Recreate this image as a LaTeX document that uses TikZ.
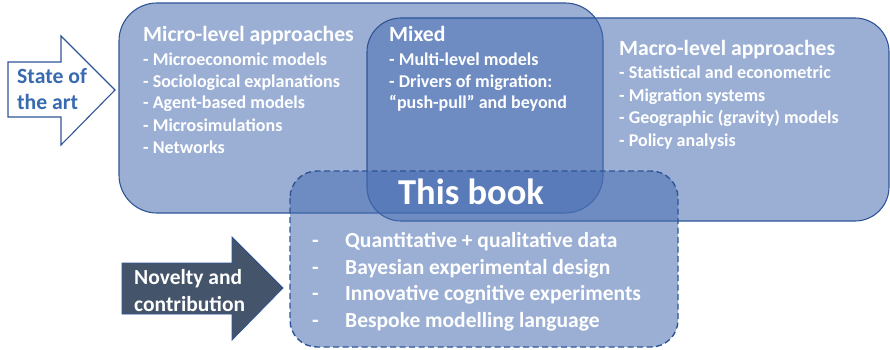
\documentclass[tikz,border=0pt]{standalone}
\usepackage{fontspec}
\setmainfont{Carlito}
\definecolor{boxfill}{RGB}{73,110,179}
\definecolor{boxline}{RGB}{47,85,151}
\definecolor{slate}{RGB}{68,84,106}
\definecolor{sotext}{RGB}{56,106,176}
\tikzset{
  region/.style={draw=boxline, line width=1.1pt, fill=boxfill, fill opacity=0.55},
  bookbox/.style={draw=boxline, line width=1.4pt, dash pattern=on 6pt off 3.5pt, fill=boxfill, fill opacity=0.55},
  head/.style={text=white, anchor=base west, inner sep=0pt, font=\bfseries\fontsize{21.7}{24}\selectfont},
  item/.style={text=white, anchor=base west, inner sep=0pt, font=\bfseries\fontsize{18}{21}\selectfont},
  bitem/.style={text=white, anchor=base west, inner sep=0pt, font=\bfseries\fontsize{21.5}{24}\selectfont},
}
\begin{document}
\begin{tikzpicture}[x=1pt,y=-1pt]
\useasboundingbox (0,0) rectangle (890,350);
% regions
\draw[region, rounded corners=38pt] (119,3) rectangle (603,213);
\draw[region, rounded corners=34pt] (367,18) rectangle (889,221);
\draw[bookbox, rounded corners=27pt] (290,171) rectangle (678,347);
% arrows
\draw[draw=boxline, line width=1.1pt, fill=white, line join=miter]
  (8,62) -- (61,62) -- (61,36) -- (115,90) -- (61,145) -- (61,117) -- (8,117) -- cycle;
\draw[draw=boxline, line width=0.8pt, fill=slate, line join=miter]
  (122,263) -- (232,263) -- (232,237) -- (283,288) -- (232,340) -- (232,314) -- (122,314) -- cycle;
% state of the art
\node[anchor=base west, inner sep=0pt, text=sotext, font=\bfseries\fontsize{21.7}{24}\selectfont] (sa1) at (17,84) {State of};
\node[anchor=base west, inner sep=0pt, text=sotext, font=\bfseries\fontsize{21.7}{24}\selectfont] (sa2) at (17,110) {the art};
% novelty
\node[bitem] (nc1) at (134,284) {Novelty and};
\node[bitem] (nc2) at (134,311) {contribution};
% micro
\node[head] (mih) at (143,42) {Micro-level approaches};
\node[item] (mi1) at (143,66) {- Microeconomic models};
\node[item] (mi2) at (143,88) {- Sociological explanations};
\node[item] (mi3) at (143,109) {- Agent-based models};
\node[item] (mi4) at (143,131) {- Microsimulations};
\node[item] (mi5) at (143,153) {- Networks};
% mixed
\node[head] (mxh) at (389,42) {Mixed};
\node[item] (mx1) at (389,66) {- Multi-level models};
\node[item] (mx2) at (389,88) {- Drivers of migration:};
\node[item] (mx3) at (389,109) {“push-pull” and beyond};
% macro
\node[head] (mah) at (619,56) {Macro-level approaches};
\node[item] (ma1) at (619,79) {- Statistical and econometric};
\node[item] (ma2) at (619,102) {- Migration systems};
\node[item] (ma3) at (619,124) {- Geographic (gravity) models};
\node[item] (ma4) at (619,146) {- Policy analysis};
% this book
\node[text=white, anchor=base, inner sep=0pt, font=\bfseries\fontsize{36.5}{40}\selectfont] (tb) at (471,204) {This book};
\node[bitem] (bd1) at (312,247) {-};
\node[bitem] (bd2) at (312,274) {-};
\node[bitem] (bd3) at (312,300) {-};
\node[bitem] (bd4) at (312,327) {-};
\node[bitem] (bt1) at (345,247) {Quantitative + qualitative data};
\node[bitem] (bt2) at (345,274) {Bayesian experimental design};
\node[bitem] (bt3) at (345,300) {Innovative cognitive experiments};
\node[bitem] (bt4) at (345,327) {Bespoke modelling language};
\end{tikzpicture}
\end{document}
